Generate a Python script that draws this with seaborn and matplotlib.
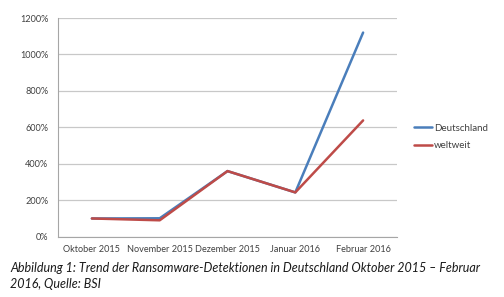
import matplotlib
matplotlib.use("Agg")
import matplotlib.pyplot as plt
import pandas as pd
import seaborn as sns
import numpy as np

# Daten
monate = ["Oktober 2015", "November 2015", "Dezember 2015", "Januar 2016", "Februar 2016"]
deutschland = [100, 101, 360, 243, 1120]
weltweit = [100, 90, 360, 243, 638]
y_ticks = [0, 200, 400, 600, 800, 1000, 1200]

df = pd.DataFrame({
    "Monat": monate * 2,
    "Wert": deutschland + weltweit,
    "Serie": ["Deutschland"] * 5 + ["weltweit"] * 5,
})
df["pos"] = list(range(5)) * 2

sns.set_style("white")
plt.rcParams["font.family"] = ["Lato", "DejaVu Sans"]

fig = plt.figure(figsize=(5.04, 2.97), dpi=100)
ax = fig.add_axes([58 / 504, 1 - 236.7 / 297, (397 - 58) / 504, (236.7 - 18) / 297])

sns.lineplot(data=df, x="pos", y="Wert", hue="Serie",
             palette={"Deutschland": "#4a7ebb", "weltweit": "#be4b48"},
             linewidth=1.8, ax=ax, legend=False)

ax.set_xlim(-0.5, 4.5)
ax.set_ylim(0, 1200)
ax.set_yticks(y_ticks)
ax.set_yticklabels([f"{v}%" for v in y_ticks], fontsize=6.6, color="#404040")
ax.set_xticks(range(5))
ax.set_xticklabels(monate, fontsize=6.6, color="#404040")
ax.set_xticks(np.arange(-0.5, 5, 1), minor=True)
ax.tick_params(axis="x", which="major", length=0, pad=6)
ax.tick_params(axis="x", which="minor", length=4, color="#a6a6a6", width=0.8)
ax.tick_params(axis="y", length=0, pad=7)
ax.grid(axis="y", color="#c8c8c8", linewidth=0.9)
ax.set_axisbelow(True)
ax.set_xlabel("")
ax.set_ylabel("")
for s in ["top", "right"]:
    ax.spines[s].set_visible(False)
for s in ["left", "bottom"]:
    ax.spines[s].set_color("#a6a6a6")
    ax.spines[s].set_linewidth(0.8)

# Legende
handles = [plt.Line2D([], [], color="#4a7ebb", linewidth=1.8),
           plt.Line2D([], [], color="#be4b48", linewidth=1.8)]
fig.legend(handles, ["Deutschland", "weltweit"], loc="upper left",
           bbox_to_anchor=(405 / 504, 1 - 115 / 297), frameon=False,
           fontsize=7, handlelength=1.9, handletextpad=0.2, labelspacing=0.9,
           labelcolor="#404040")

fig.text(10 / 504, 1 - 268 / 297,
         "Abbildung 1: Trend der Ransomware-Detektionen in Deutschland Oktober 2015 – Februar",
         fontsize=9.0, style="italic", va="center", color="#1a1a1a")
fig.text(10 / 504, 1 - 284 / 297, "2016, Quelle: BSI",
         fontsize=9.0, style="italic", va="center", color="#1a1a1a")

fig.savefig("out.png", dpi=100)
